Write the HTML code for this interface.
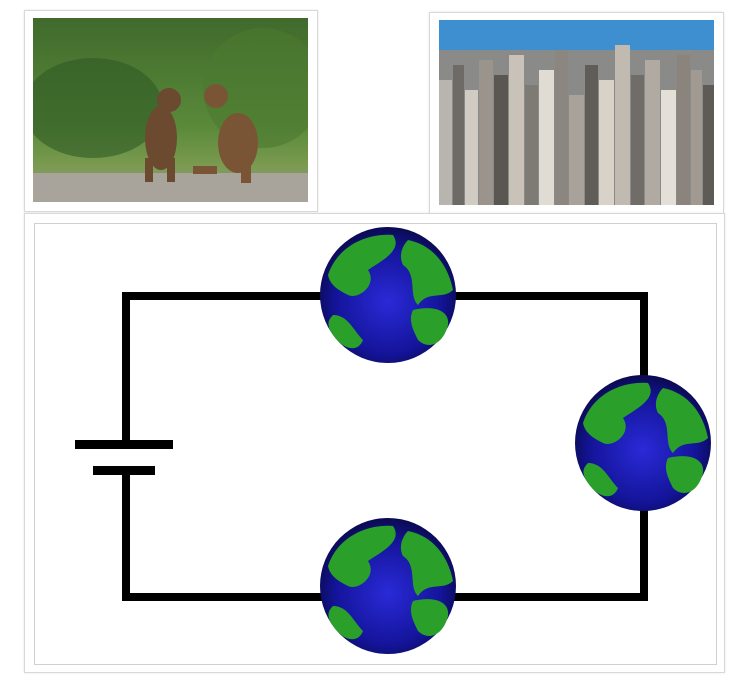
<!DOCTYPE html>
<html><head><meta charset="utf-8">
<style>
html,body{margin:0;padding:0;background:#fff;width:742px;height:680px;overflow:hidden;font-family:"Liberation Sans",sans-serif;}
.frame{position:absolute;border:1px solid #d8d8d8;background:#fff;box-shadow:0 0 2px #e5e5e5;}
</style></head><body>
<div class="frame" style="left:24px;top:10px;width:292px;height:200px;"></div>
<svg style="position:absolute;left:33px;top:18px" width="275" height="184">
<defs><linearGradient id="bg1" x1="0" y1="0" x2="0" y2="1"><stop offset="0" stop-color="#3f6a2c"/><stop offset="0.6" stop-color="#5b8a3a"/><stop offset="0.8" stop-color="#7a9a50"/><stop offset="1" stop-color="#9a9890"/></linearGradient></defs>
<rect width="275" height="184" fill="url(#bg1)"/>
<ellipse cx="60" cy="90" rx="70" ry="50" fill="#2f5a24" opacity="0.6"/>
<ellipse cx="230" cy="70" rx="60" ry="60" fill="#4b7a30" opacity="0.6"/>
<rect y="155" width="275" height="29" fill="#a8a49c"/>
<g fill="#6b4a30"><ellipse cx="128" cy="120" rx="16" ry="32"/><circle cx="136" cy="82" r="12"/><rect x="112" y="140" width="8" height="24"/><rect x="134" y="140" width="8" height="24"/></g>
<g fill="#7a5535"><ellipse cx="205" cy="125" rx="20" ry="30"/><circle cx="183" cy="78" r="12"/><rect x="160" y="148" width="24" height="8"/><rect x="208" y="145" width="10" height="20"/></g>
</svg>
<div class="frame" style="left:429px;top:12px;width:293px;height:200px;"></div>
<svg style="position:absolute;left:439px;top:20px" width="275" height="185">
<rect width="275" height="185" fill="#8a8a88"/>
<rect width="275" height="30" fill="#3d8fd0"/>
<g id="bld"></g>
</svg>
<div class="frame" style="left:24px;top:213px;width:699px;height:458px;"></div>
<div style="position:absolute;left:34px;top:223px;width:681px;height:440px;border:1px solid #d0d0d0;"></div>
<svg style="position:absolute;left:0;top:0" width="742" height="680">
<defs>
<radialGradient id="globe" cx="0.5" cy="0.55" r="0.55"><stop offset="0" stop-color="#2a2ad8"/><stop offset="0.7" stop-color="#14149a"/><stop offset="1" stop-color="#0a0a50"/></radialGradient>
<g id="earth">
<circle r="68" fill="url(#globe)"/>
<path d="M-60,-20 C-50,-50 -20,-62 5,-60 C15,-45 -5,-35 -20,-25 C-10,-10 -30,5 -40,0 C-50,-5 -58,-10 -60,-20Z" fill="#2aa02a"/>
<path d="M20,-55 C45,-50 60,-30 65,-5 C55,5 40,-5 30,10 C20,0 30,-20 15,-30 C10,-40 15,-50 20,-55Z" fill="#2aa02a"/>
<path d="M25,15 C45,10 62,15 60,30 C55,50 40,55 30,45 C25,35 20,25 25,15Z" fill="#2aa02a"/>
<path d="M-55,20 C-40,20 -35,35 -25,45 C-30,58 -45,55 -55,40 C-62,30 -60,25 -55,20Z" fill="#2aa02a"/>
</g>
</defs>
<g stroke="#000" stroke-width="8" fill="none">
<polyline points="126,440 126,296 644,296 644,597 126,597 126,470"/>
</g>
<rect x="75" y="440" width="98" height="9" fill="#000"/>
<rect x="93" y="466" width="62" height="9" fill="#000"/>
<use href="#earth" x="388" y="295"/>
<use href="#earth" x="643" y="443"/>
<use href="#earth" x="388" y="586"/>
</svg>
<script>
const bx=[0,14,26,40,55,70,86,100,116,130,146,160,176,192,206,222,238,252,264];
const bw=[13,11,13,14,14,15,13,15,13,15,13,15,15,13,15,15,13,11,11];
const bt=[60,45,70,40,55,35,65,50,30,75,45,60,25,55,40,70,35,50,65];
const bc=["#b8b4ae","#6e6a66","#d0ccc4","#9a948c","#5a5652","#c8c2b8","#7e7a74","#e0dcd4","#8c8680","#a8a29a","#605c58","#d8d2c8","#c0bab0","#706c68","#b0aaa2","#e4e0d8","#8a847c","#a09a92","#5e5a56"];
const g=document.getElementById('bld');
for(let i=0;i<bx.length;i++){const r=document.createElementNS('http://www.w3.org/2000/svg','rect');
r.setAttribute('x',bx[i]);r.setAttribute('y',bt[i]);r.setAttribute('width',bw[i]);r.setAttribute('height',185-bt[i]);r.setAttribute('fill',bc[i]);


g.appendChild(r);}
</script>
</body></html>
